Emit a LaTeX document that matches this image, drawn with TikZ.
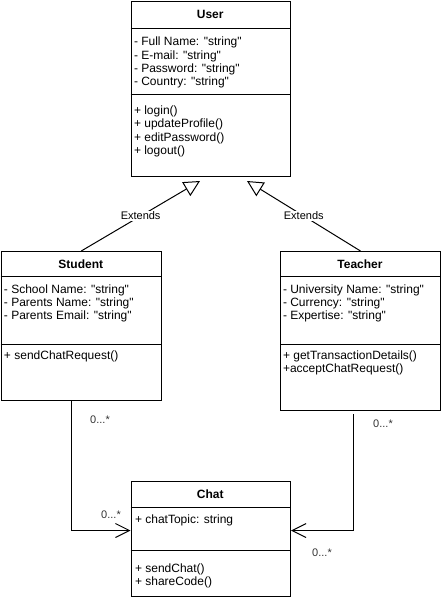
\documentclass[tikz,border=0pt]{standalone}
\usepackage{fontspec}
\setmainfont{Liberation Sans}[Ligatures=TeXOff]
\usetikzlibrary{arrows.meta,calc}
\begin{document}
\begin{tikzpicture}[x=1pt,y=-1pt,line width=1pt,
  classbox/.style={draw,line width=1pt,anchor=north west,inner sep=0pt},
  linetxt/.style={anchor=base west,inner sep=0pt,font=\fontsize{12}{14}\selectfont},
  headtxt/.style={anchor=base,inner sep=0pt,font=\fontsize{12}{14}\selectfont\bfseries},
  genline/.style={-{Triangle[open,length=16pt,width=16pt]},line width=1pt},
  assocline/.style={-{Straight Barb[length=14pt,width=14pt]},line width=1pt},
  extlbl/.style={fill=white,inner sep=1pt,font=\fontsize{11}{13}\selectfont},
  multlbl/.style={inner sep=1pt,text=black!80,font=\fontsize{11}{13}\selectfont}]
\useasboundingbox (0,0) rectangle (441,600);

% ---- User ----
\node[classbox,minimum width=159.5pt,minimum height=175.5pt] (user) at (130.5,0.5) {};
\draw (130.5,28) -- (290,28);
\draw (130.5,94) -- (290,94);
\node[headtxt] (userH) at (210.25,18) {User};
\node[linetxt] (u1) at (133.5,45.7) {- Full Name: "string"};
\node[linetxt] (u2) at (133.5,59) {- E-mail: "string"};
\node[linetxt] (u3) at (133.5,72.3) {- Password: "string"};
\node[linetxt] (u4) at (133.5,85.6) {- Country: "string"};
\node[linetxt] (u5) at (133.5,114.5) {+ login()};
\node[linetxt] (u6) at (133.5,127.8) {+ updateProfile()};
\node[linetxt] (u7) at (133.5,141.1) {+ editPassword()};
\node[linetxt] (u8) at (133.5,154.4) {+ logout()};

% ---- Student ----
\node[classbox,minimum width=160.5pt,minimum height=149pt] (student) at (0.5,251) {};
\draw (0.5,276) -- (161,276);
\draw (0.5,344) -- (161,344);
\node[headtxt] (studentH) at (80.75,268) {Student};
\node[linetxt] (s1) at (3.5,293) {- School Name: "string"};
\node[linetxt] (s2) at (3.5,306.3) {- Parents Name: "string"};
\node[linetxt] (s3) at (3.5,319.6) {- Parents Email: "string"};
\node[linetxt] (s4) at (3.5,359) {+ sendChatRequest()};

% ---- Teacher ----
\node[classbox,minimum width=160pt,minimum height=159pt] (teacher) at (280,251) {};
\draw (280,276) -- (440,276);
\draw (280,344) -- (440,344);
\node[headtxt] (teacherH) at (360,268) {Teacher};
\node[linetxt] (t1) at (282.5,293) {- University Name: "string"};
\node[linetxt] (t2) at (282.5,306.3) {- Currency: "string"};
\node[linetxt] (t3) at (282.5,319.6) {- Expertise: "string"};
\node[linetxt] (t4) at (282.5,359) {+ getTransactionDetails()};
\node[linetxt] (t5) at (282.5,372.3) {+acceptChatRequest()};

% ---- Chat ----
\node[classbox,minimum width=159.5pt,minimum height=115pt] (chat) at (130.5,481) {};
\draw (130.5,507) -- (290,507);
\draw (130.5,550) -- (290,550);
\node[headtxt] (chatH) at (210.25,498) {Chat};
\node[linetxt] (c1) at (134.5,523) {+ chatTopic: string};
\node[linetxt] (c2) at (134.5,572) {+ sendChat()};
\node[linetxt] (c3) at (134.5,585.3) {+ shareCode()};

% ---- Generalizations ----
\coordinate (uL) at (200,181);
\coordinate (uR) at (247,181);
\draw[genline] (student.north) -- node[extlbl] (e1) {Extends} (uL);
\draw[genline] (teacher.north) -- node[extlbl] (e2) {Extends} (uR);

% ---- Associations ----
\draw[assocline] ([xshift=-10pt]student.south) |- ([yshift=8.5pt]chat.west);
\draw[assocline] ([xshift=-7pt,yshift=-3pt]teacher.south) |- ([yshift=8.5pt]chat.east);
\node[multlbl] (m1) at (100,420) {0...*};
\node[multlbl] (m2) at (111,515) {0...*};
\node[multlbl] (m3) at (383,424) {0...*};
\node[multlbl] (m4) at (322,553) {0...*};
\end{tikzpicture}
\end{document}
